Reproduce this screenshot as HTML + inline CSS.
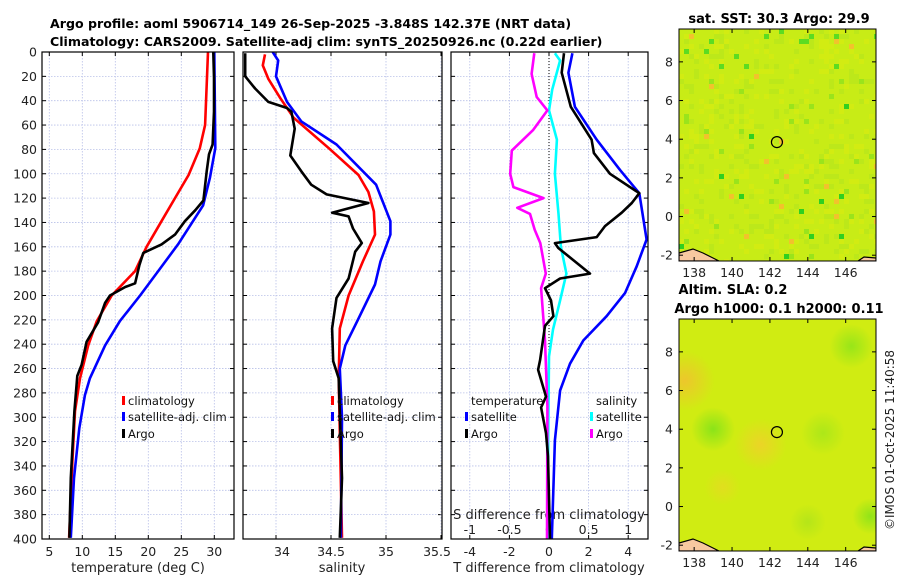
<!DOCTYPE html>
<html><head><meta charset="utf-8"><style>
body{margin:0;background:#fff;}
svg{display:block;font-family:"DejaVu Sans","Liberation Sans",sans-serif;}
</style></head><body>
<svg id="fig" width="900" height="580" viewBox="0 0 900 580" xmlns="http://www.w3.org/2000/svg">
<text x="50" y="28" font-size="12.6" font-weight="bold">Argo profile: aoml 5906714_149 26-Sep-2025 -3.848S 142.37E (NRT data)</text>
<text x="50" y="46" font-size="12.6" font-weight="bold">Climatology: CARS2009. Satellite-adj clim: synTS_20250926.nc (0.22d earlier)</text>
<g id="g"></g>
<text transform="translate(894,440) rotate(-90)" text-anchor="middle" font-size="12" fill="#222">©IMOS 01-Oct-2025 11:40:58</text>
</svg>
<script>
// ---- data (depth in dbar) ----
const climD=[0,60,79,101,120,139,160,180,200,221,241,268,295,336,399];
const climT=[29.05,28.6,27.8,26.1,24.05,22.0,19.75,18.0,14.45,12.2,10.9,9.65,8.9,8.5,8.0];
const satD=[0,79,103,126,158,180,200,221,241,268,282,309,350,399];
const satT=[30.0,30.15,29.35,28.3,24.5,21.5,18.75,15.7,13.45,11.15,10.4,9.55,8.75,8.25];
const argoD=[0,21,49,76,84,98,122,130,139,150,158,165,175,190,193,200,206,222,238,257,266,295,350,399];
const argoT=[29.85,29.95,29.95,29.75,29.2,28.85,28.35,27.1,25.55,24.05,22.0,19.25,18.65,18.0,16.5,14.2,13.45,12.4,10.65,9.9,9.25,8.8,8.25,8.05];
const climSD=[2,11,22,38,54,79,101,115,131,150,172,200,227,268,399];
const climS=[33.9,33.88,33.93,34.04,34.16,34.48,34.75,34.84,34.89,34.9,34.79,34.66,34.58,34.57,34.6];
const satSD=[0,7,20,41,57,76,109,139,150,172,191,219,241,260,300,399];
const satS=[33.97,34.02,34.0,34.1,34.23,34.55,34.91,35.04,35.04,34.95,34.9,34.75,34.63,34.58,34.6,34.59];
const argoSD=[1,20,30,41,46,49,63,85,98,109,117,124,132,135,145,157,164,186,202,227,254,268,350,399];
const argoS=[33.72,33.72,33.81,33.93,34.1,34.14,34.17,34.13,34.23,34.32,34.46,34.84,34.51,34.66,34.7,34.78,34.72,34.66,34.55,34.51,34.52,34.57,34.6,34.58];
const dTsD=[1,17,45,72,97,116,154,176,198,217,237,256,278,319,400];
const dTs=[1.18,0.98,1.31,2.41,3.59,4.56,4.93,4.43,3.84,2.91,1.73,1.06,0.56,0.3,0.14];
const dTaD=[1,17,45,72,83,100,116,124,132,143,152,157,161,182,186,194,204,217,225,253,261,283,292,313,332,400];
const dTa=[0.76,0.64,1.1,2.15,2.27,3.08,4.56,4.18,3.67,2.83,2.41,0.3,0.47,2.07,0.56,-0.2,0.1,0.22,-0.2,-0.45,-0.55,-0.15,-0.4,-0.15,-0.05,0.05];
const dSsD=[1,7,31,48,72,100,133,160,182,204,228,250,319,400];
const dSs=[0.075,0.14,0.04,0,0.1,0.075,0.12,0.15,0.22,0.14,0.05,0,-0.01,-0.01];
const dSaD=[1,18,37,48,64,81,100,111,120,128,133,146,157,182,194,237,291,400];
const dSa=[-0.185,-0.22,-0.155,-0.02,-0.2,-0.47,-0.49,-0.45,-0.07,-0.4,-0.24,-0.18,-0.11,-0.04,-0.1,-0.05,-0.02,-0.025];
const depthTicks=[0,20,40,60,80,100,120,140,160,180,200,220,240,260,280,300,320,340,360,380,400];
const tTicks=[5,10,15,20,25,30];
const sTicks=[34,34.5,35,35.5];
const dTTicks=[-4,-2,0,2,4];
const dSTicks=[-1,-0.5,0,0.5,1];
const latTicks=[-2,0,2,4,6,8];
const lonTicks=[138,140,142,144,146];
const profLon=142.37, profLat=3.85;

const NS="http://www.w3.org/2000/svg";
const G=document.getElementById('g');
function el(t,a,p){const e=document.createElementNS(NS,t);for(const k in a)e.setAttribute(k,a[k]);(p||G).appendChild(e);return e;}
function txt(s,a,p){const e=el('text',a,p);e.textContent=s;return e;}
const yD=d=>52+d*1.2175;
const xT=v=>49.3+(v-5)*6.6;
const xS=v=>276+(v-34)*110;
const xDT=v=>549+v*19.8;
const xDS=v=>549+v*4*19.8;
const panels=[[42,234],[243,442],[451,648]];

const defs=el('defs',{});
panels.forEach((p,i)=>{const c=el('clipPath',{id:'c'+i},defs);el('rect',{x:p[0],y:52,width:p[1]-p[0],height:487},c);});

panels.forEach((p,i)=>{
  const fr=el('g',{});
  
  
  depthTicks.forEach(d=>{
    el('line',{x1:p[0],x2:p[1],y1:yD(d),y2:yD(d),stroke:'#b8c0e8','stroke-width':0.8,'stroke-dasharray':'1.5,1.5'},fr);
    el('line',{x1:p[0],x2:p[0]+4,y1:yD(d),y2:yD(d),stroke:'#000'},fr);
    el('line',{x1:p[1]-4,x2:p[1],y1:yD(d),y2:yD(d),stroke:'#000'},fr);
  });
});
function vgrid(ticks,fx){ticks.forEach(v=>{const x=fx(v);
  el('line',{x1:x,x2:x,y1:52,y2:539,stroke:'#b8c0e8','stroke-width':0.8,'stroke-dasharray':'1.5,1.5'});
  el('line',{x1:x,x2:x,y1:535,y2:539,stroke:'#000'});
  el('line',{x1:x,x2:x,y1:52,y2:56,stroke:'#000'});});}
vgrid(tTicks,xT);vgrid(sTicks,xS);vgrid(dTTicks,xDT);
el('line',{x1:549,x2:549,y1:52,y2:539,stroke:'#000','stroke-width':1,'stroke-dasharray':'1,2'});

depthTicks.forEach(d=>{const t=txt(String(d),{x:37,y:yD(d)+4.5,'text-anchor':'end','font-size':12.5,fill:'#222'});
});
tTicks.forEach(v=>{const t=txt(String(v),{x:xT(v),y:556,'text-anchor':'middle','font-size':12.5,fill:'#222'});
});
sTicks.forEach(v=>{const t=txt(String(v),{x:xS(v)+(v===34?6:v===35.5?-4:0),y:556,'text-anchor':'middle','font-size':12.5,fill:'#222'});
});
dTTicks.forEach(v=>{const t=txt(String(v),{x:xDT(v),y:556,'text-anchor':'middle','font-size':12.5,fill:'#222'});
});
dSTicks.forEach(v=>{const t=txt(String(v),{x:xDS(v),y:534,'text-anchor':'middle','font-size':12.5,fill:'#222'});
});
let t;
t=txt('temperature (deg C)',{x:138,y:572,'text-anchor':'middle','font-size':13,fill:'#222'});
t=txt('salinity',{x:342,y:572,'text-anchor':'middle','font-size':13,fill:'#222'});
t=txt('T difference from climatology',{x:549,y:572,'text-anchor':'middle','font-size':13,fill:'#222'});
t=txt('S difference from climatology',{x:549,y:519,'text-anchor':'middle','font-size':13,fill:'#222'});

function line(D,V,fx,col,clip,name){
  const pts=D.map((d,i)=>fx(V[i]).toFixed(1)+','+yD(d).toFixed(1)).join(' ');
  const l=el('polyline',{points:pts,fill:'none',stroke:col,'stroke-width':2.6,'stroke-linejoin':'round','clip-path':'url(#c'+clip+')'});
  
  
}
line(climD,climT,xT,'#f00',0,'temp-climatology-line');
line(satD,satT,xT,'#00f',0,'temp-satellite-line');
line(argoD,argoT,xT,'#000',0,'temp-argo-line');
line(climSD,climS,xS,'#f00',1,'sal-climatology-line');
line(satSD,satS,xS,'#00f',1,'sal-satellite-line');
line(argoSD,argoS,xS,'#000',1,'sal-argo-line');
line(dSsD,dSs,xDS,'#0ff',2,'sdiff-satellite-line');
line(dSaD,dSa,xDS,'#f0f',2,'sdiff-argo-line');
line(dTsD,dTs,xDT,'#00f',2,'tdiff-satellite-line');
line(dTaD,dTa,xDT,'#000',2,'tdiff-argo-line');

function leg(x,y,col,label,name){
  const g=el('g',{});
  if(col)el('rect',{x:x,y:y-9,width:3,height:9,fill:col},g);
  txt(label,{x:x+6,y:y,'font-size':11.5,fill:'#111'},g);
}
leg(122,405,'#f00','climatology','legend-climatology');
leg(122,421,'#00f','satellite-adj. clim','legend-satellite');
leg(122,438,'#000','Argo','legend-argo');
leg(331,405,'#f00','climatology','legend-sal-climatology');
leg(331,421,'#00f','satellite-adj. clim','legend-sal-satellite');
leg(331,438,'#000','Argo','legend-sal-argo');
leg(465,405,null,'temperature','legend-temperature-header');
leg(465,421,'#00f','satellite','legend-tdiff-satellite');
leg(465,438,'#000','Argo','legend-tdiff-argo');
leg(590,405,null,'salinity','legend-salinity-header');
leg(590,421,'#0ff','satellite','legend-sdiff-satellite');
leg(590,438,'#f0f','Argo','legend-sdiff-argo');

panels.forEach(p=>el('rect',{x:p[0],y:52,width:p[1]-p[0],height:487,fill:'none',stroke:'#000','stroke-width':1.2}));

// ---- maps ----
function hsh(i,j,s){let h=(i*374761393+j*668265263+s*982451653)|0;h=(h^(h>>>13))*1274126177|0;return ((h^(h>>>16))>>>0)/4294967295;}
function map(top,seed,name,smooth){
  const L=679,R=876,B=top+232;
  const lonX=v=>L+(v-137.2)*(R-L)/(147.6-137.2);
  const latY=v=>B-(v+2.3)*(B-top)/(9.7+2.3);
  const g=el('g',{});
  const cid='m'+seed;const c=el('clipPath',{id:cid},defs);el('rect',{x:L,y:top,width:R-L,height:B-top},c);
  const inner=el('g',{'clip-path':'url(#'+cid+')'},g);
  el('rect',{x:L,y:top,width:R-L,height:B-top,fill:smooth?'#d0ec12':'#c8ec16'},inner);
  if(!smooth){
    for(let i=0;i<40;i++)for(let j=0;j<47;j++){
      const r=hsh(i,j,seed);let col=null;
      if(r>0.993)col='#30d020';else if(r>0.975)col='#9ae41c';else if(r<0.012)col='#f2c22c';else if(r<0.15)col='#d2ec12';else if(r<0.28)col='#bce81a';
      if(j<8&&r>0.95)col='#5cdc22';
      if(col)el('rect',{x:L+i*5,y:top+j*5,width:5,height:5,fill:col},inner);
    }
  }else{
    const rg=[[137.5,6.5,30,'#f2c030'],[139,4,22,'#7ee21a'],[146.3,8.3,22,'#8ee41a'],[144.8,3.8,22,'#a6e61a'],[147.3,-0.5,18,'#86e21a'],[141.5,3.2,26,'#f0d02a'],[139.5,1,18,'#e4dc20'],[144,-0.8,18,'#b0e41a']];
    rg.forEach((q,k)=>{const gid='rg'+k;const gr=el('radialGradient',{id:gid},defs);
      el('stop',{offset:'0','stop-color':q[3],'stop-opacity':0.85},gr);el('stop',{offset:'1','stop-color':q[3],'stop-opacity':0},gr);
      el('circle',{cx:lonX(q[0]),cy:latY(q[1]),r:q[2],fill:'url(#'+gid+')'},inner);});
  }
  el('path',{d:`M${L},${B-8} L${L+14},${B-12} L${L+24},${B-8} L${L+34},${B-3} L${L+40},${B} L${L},${B}Z`,fill:'#f8c8a0',stroke:'#000','stroke-width':1.2},inner);
  el('path',{d:`M${R-18},${B} L${R-12},${B-4} L${R},${B-3} L${R},${B}Z`,fill:'#f8c8a0',stroke:'#000','stroke-width':1.2},inner);
  el('circle',{cx:lonX(profLon),cy:latY(profLat),r:5.5,fill:'none',stroke:'#000','stroke-width':1.2},g);
  el('rect',{x:L,y:top,width:R-L,height:B-top,fill:'none',stroke:'#000','stroke-width':1},g);
  latTicks.forEach(v=>{el('line',{x1:L,x2:L+4,y1:latY(v),y2:latY(v),stroke:'#000'},g);el('line',{x1:R-4,x2:R,y1:latY(v),y2:latY(v),stroke:'#000'},g);
    const t=txt(String(v),{x:L-6,y:latY(v)+4.5,'text-anchor':'end','font-size':12.5,fill:'#222'},g);});
  lonTicks.forEach(v=>{el('line',{x1:lonX(v),x2:lonX(v),y1:B-4,y2:B,stroke:'#000'},g);el('line',{x1:lonX(v),x2:lonX(v),y1:top,y2:top+4,stroke:'#000'},g);
    const t=txt(String(v),{x:lonX(v),y:B+16,'text-anchor':'middle','font-size':12.5,fill:'#222'},g);});
}
map(29,1,'sst-map',false);
map(319,2,'sla-map',true);
t=txt('sat. SST: 30.3 Argo: 29.9',{x:779,y:23,'text-anchor':'middle','font-size':13,'font-weight':'bold'});
t=txt('Altim. SLA: 0.2',{x:733,y:294,'text-anchor':'middle','font-size':13,'font-weight':'bold'});
t=txt('Argo h1000: 0.1 h2000: 0.11',{x:779,y:313,'text-anchor':'middle','font-size':13,'font-weight':'bold'});
</script>
</body></html>
